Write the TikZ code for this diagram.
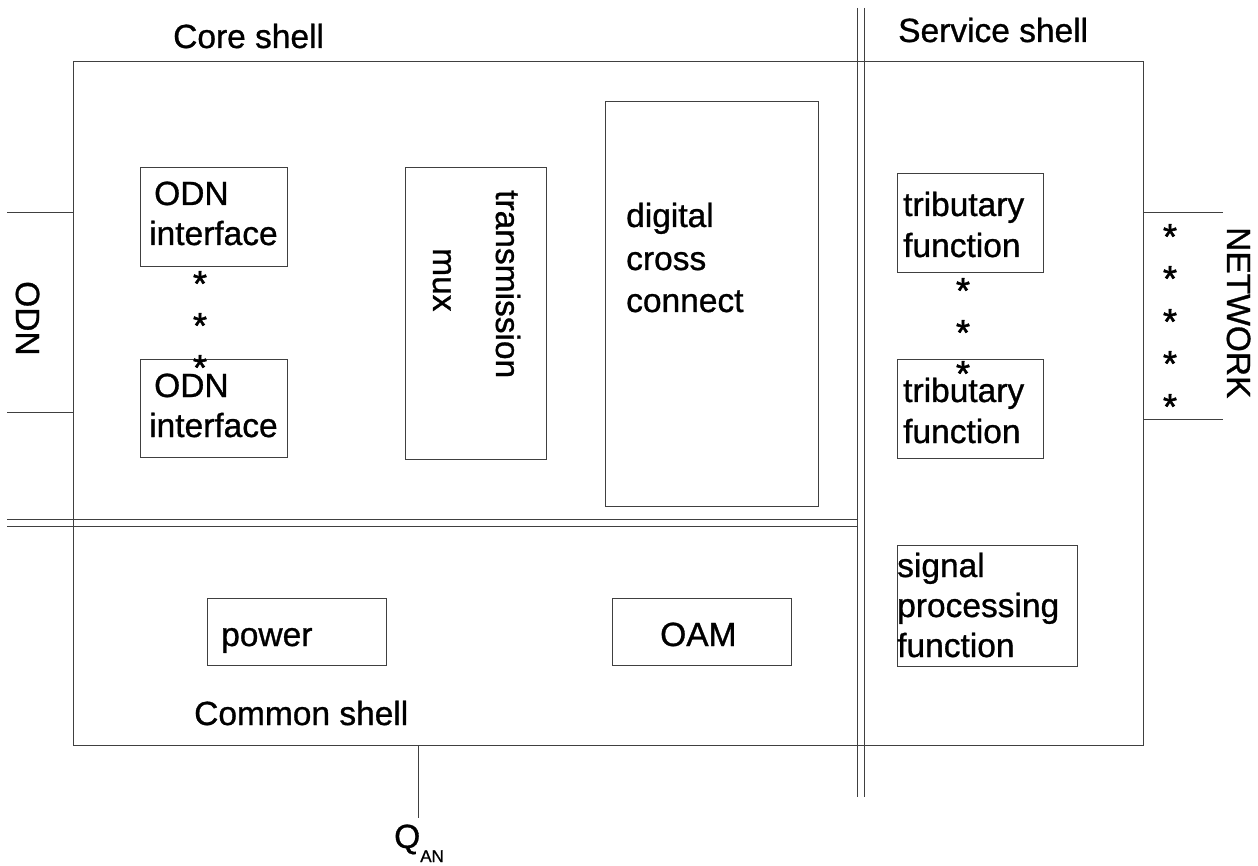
\documentclass[tikz,border=0pt]{standalone}
\usepackage{fontspec}
\setmainfont[FakeBold=0.9]{Liberation Sans}
\newfontfamily\astfont[FakeBold=1.5]{Liberation Sans}
\begin{document}
\begin{tikzpicture}[x=1pt,y=-1pt,
  ln/.style={draw=black!75,line width=1pt},
  box/.style={ln,rectangle,inner sep=0pt,anchor=north west},
  txt/.style={anchor=base west,inner sep=0pt,font=\fontsize{33.5}{41}\selectfont},
  vtxt/.style={txt,rotate=-90},
  ast/.style={anchor=base,inner sep=0pt,font=\astfont\fontsize{36}{41}\selectfont}]
\useasboundingbox (0,0) rectangle (1258,866);
\fill[white] (0,0) rectangle (1258,866);

% outer shell
\node[box,minimum width=1070pt,minimum height=684pt] (shell) at (73,61) {};

% double separators
\draw[ln] (857,8) -- (857,797);
\draw[ln] (864,8) -- (864,797);
\draw[ln] (7,519) -- (857,519);
\draw[ln] (7,526) -- (857,526);

% shell labels
\node[txt] (core) at (173,48) {Core shell};
\node[txt] (service) at (898,42) {Service shell};
\node[txt] (common) at (194,725) {Common shell};

% ODN interfaces
\node[box,minimum width=147pt,minimum height=99pt] (odn1) at (140,167) {};
\node[txt] (odn1a) at (154,205) {ODN};
\node[txt] (odn1b) at (149,245) {interface};
\node[box,minimum width=147pt,minimum height=98pt] (odn2) at (140,359) {};
\node[txt] (odn2a) at (154,397) {ODN};
\node[txt] (odn2b) at (149,437) {interface};
\node[ast] (s1) at (200,296) {*};
\node[ast] (s2) at (200,338) {*};
\node[ast] (s3) at (200,380) {*};

% transmission mux
\node[box,minimum width=141pt,minimum height=292pt] (mux) at (405,167) {};
\node[vtxt] (muxa) at (496,190) {transmission};
\node[vtxt] (muxb) at (433,248) {mux};

% digital cross connect
\node[box,minimum width=213pt,minimum height=405pt] (dxc) at (605,101) {};
\node[txt] (dxca) at (626,227) {digital};
\node[txt] (dxcb) at (626,270) {cross};
\node[txt] (dxcc) at (626,312) {connect};

% tributary functions
\node[box,minimum width=146pt,minimum height=99pt] (trib1) at (897,173) {};
\node[txt] (trib1a) at (903,216) {tributary};
\node[txt] (trib1b) at (903,257) {function};
\node[box,minimum width=146pt,minimum height=99pt] (trib2) at (897,359) {};
\node[txt] (trib2a) at (903,402) {tributary};
\node[txt] (trib2b) at (903,443) {function};
\node[ast] (t1) at (963,303) {*};
\node[ast] (t2) at (963,345) {*};
\node[ast] (t3) at (963,386) {*};

% signal processing
\node[box,minimum width=180pt,minimum height=121pt] (sig) at (897,545) {};
\node[txt] (siga) at (897,577) {signal};
\node[txt] (sigb) at (897,617) {processing};
\node[txt] (sigc) at (897,657) {function};

% common shell
\node[box,minimum width=179pt,minimum height=67pt] (power) at (207,598) {};
\node[txt] (powert) at (221,646) {power};
\node[box,minimum width=179pt,minimum height=67pt] (oam) at (612,598) {};
\node[txt] (oamt) at (660,646) {OAM};

% ODN side
\coordinate (odnL1) at (7,213);
\coordinate (odnL2) at (7,412);
\draw[ln] (odnL1) -- (odnL1 -| shell.west);
\draw[ln] (odnL2) -- (odnL2 -| shell.west);
\node[vtxt] (odn) at (16,281) {ODN};

% NETWORK side
\coordinate (netR1) at (1223,213);
\coordinate (netR2) at (1223,419);
\draw[ln] (netR1 -| shell.east) -- (netR1);
\draw[ln] (netR2 -| shell.east) -- (netR2);
\node[vtxt] (net) at (1227,227) {NETWORK};
\node[ast] (n1) at (1170,249) {*};
\node[ast] (n2) at (1170,291) {*};
\node[ast] (n3) at (1170,334) {*};
\node[ast] (n4) at (1170,376) {*};
\node[ast] (n5) at (1170,419) {*};

% Q_AN
\coordinate (qtop) at (418,818);
\draw[ln] (qtop |- shell.south) -- (qtop);
\node[txt] (qan) at (394,848) {Q\raisebox{-14pt}{\fontsize{17}{18}\selectfont AN}};
\end{tikzpicture}
\end{document}
